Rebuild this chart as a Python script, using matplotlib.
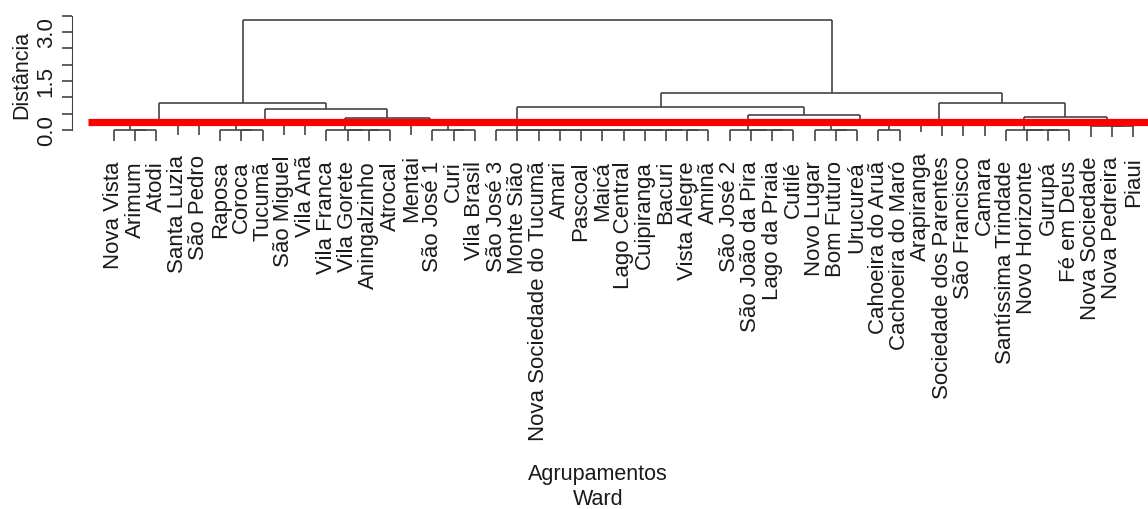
import matplotlib
matplotlib.use('Agg')
import matplotlib.pyplot as plt

plt.rcParams['font.family'] = ['Liberation Sans', 'DejaVu Sans']

# leaves in the order they are drawn
labels = ['Nova Vista', 'Arimum', 'Atodi', 'Santa Luzia', 'São Pedro', 'Raposa',
          'Coroca', 'Tucumã', 'São Miguel', 'Vila Anã', 'Vila Franca', 'Vila Gorete',
          'Aningalzinho', 'Atrocal', 'Mentai', 'São José 1', 'Curi', 'Vila Brasil',
          'São José 3', 'Monte Sião', 'Nova Sociedade do Tucumã', 'Amari', 'Pascoal',
          'Maicá', 'Lago Central', 'Cuipiranga', 'Bacuri', 'Vista Alegre', 'Aminã',
          'São José 2', 'São João da Pira', 'Lago da Praia', 'Cutilé', 'Novo Lugar',
          'Bom Futuro', 'Urucureá', 'Cahoeira do Aruã', 'Cachoeira do Maró',
          'Arapiranga', 'Sociedade dos Parentes', 'São Francisco', 'Camara',
          'Santíssima Trindade', 'Novo Horizonte', 'Gurupá', 'Fé em Deus',
          'Nova Sociedade', 'Nova Pedreira', 'Piaui']

# merge table like R's hclust: (left, right, height)
# negative = leaf (1-based position in labels), positive = earlier row
merges = [
    (-2, -3, 0), (-1, 1, 0), (-4, -5, 0.17), (2, 3, 0.17),
    (-7, -8, 0), (-6, 5, 0), (-9, -10, 0.17), (6, 7, 0.17),
    (-13, -14, 0), (-12, 9, 0), (-11, 10, 0),
    (-17, -18, 0), (-16, 12, 0), (-15, 13, 0.18), (11, 14, 0.37),
    (8, 15, 0.63), (4, 16, 0.82),
    (-28, -29, 0), (-27, 18, 0), (-26, 19, 0), (-25, 20, 0), (-24, 21, 0),
    (-23, 22, 0), (-22, 23, 0), (-21, 24, 0), (-20, 25, 0), (-19, 26, 0),
    (-32, -33, 0), (-31, 28, 0), (-30, 29, 0),
    (-35, -36, 0), (-34, 31, 0), (-37, -38, 0), (32, 33, 0.25), (30, 34, 0.45),
    (27, 35, 0.71),
    (-41, -42, 0.15), (-40, 37, 0.15), (-39, 38, 0.27),
    (-45, -46, 0), (-44, 40, 0), (-43, 41, 0),
    (-48, -49, 0.13), (-47, 43, 0.13), (42, 44, 0.39), (39, 45, 0.84),
    (36, 46, 1.14), (17, 47, 3.37),
]
cut_height = 0.25
hang = 0.1 * max(m[2] for m in merges)

fig = plt.figure(figsize=(11.48, 5.10), dpi=100)
ax = fig.add_axes([72 / 1148, 1 - 145 / 510, 1 - 72 / 1148, 135 / 510])

node_x = {}
line_kw = dict(color='#444444', lw=1.2, solid_capstyle='butt')


def child_pos(c):
    if c < 0:
        return float(-c), None
    return node_x[c], merges[c - 1][2]


for k, (a, b, h) in enumerate(merges, start=1):
    xa, ha = child_pos(a)
    xb, hb = child_pos(b)
    node_x[k] = (xa + xb) / 2
    ax.plot([xa, xb], [h, h], **line_kw)
    for c, xc, hc in ((a, xa, ha), (b, xb, hb)):
        bottom = h - hang if c < 0 else hc
        ax.plot([xc, xc], [bottom, h], **line_kw)
        if c < 0:
            ax.annotate(labels[-c - 1], (xc, bottom), xytext=(0, -19),
                        textcoords='offset pixels', rotation=90,
                        ha='center', va='top', fontsize=16, color='#1a1a1a',
                        annotation_clip=False)

# cut line
ax.plot([-0.22, 49.7], [cut_height, cut_height], color='red', lw=5.2,
        solid_capstyle='butt', zorder=5)

ax.set_xlim(-0.978, 49.7)
ax.set_ylim(-0.428, 3.70)
for s in ['top', 'right', 'bottom']:
    ax.spines[s].set_visible(False)
ax.spines['left'].set_bounds(0, 3.5)
ax.spines['left'].set_color('#444444')
ax.set_xticks([])
ax.set_yticks([0, 0.5, 1.0, 1.5, 2.0, 2.5, 3.0, 3.5])
ax.set_yticklabels(['0.0', '', '', '1.5', '', '', '3.0', ''], rotation=90,
                   va='center', fontsize=16, color='#1a1a1a')
ax.tick_params(axis='y', length=7, width=1.2, color='#444444', pad=4)

fig.text(22 / 1148, 1 - 75 / 510, 'Distância', rotation=90, ha='center',
         va='center', fontsize=15.5, color='#1a1a1a')
fig.text(598 / 1148, 1 - 475 / 510, 'Agrupamentos', ha='center', va='center',
         fontsize=15.5, color='#1a1a1a')
fig.text(598 / 1148, 1 - 500 / 510, 'Ward', ha='center', va='center',
         fontsize=15.5, color='#1a1a1a')

fig.savefig('out.png', dpi=100)
